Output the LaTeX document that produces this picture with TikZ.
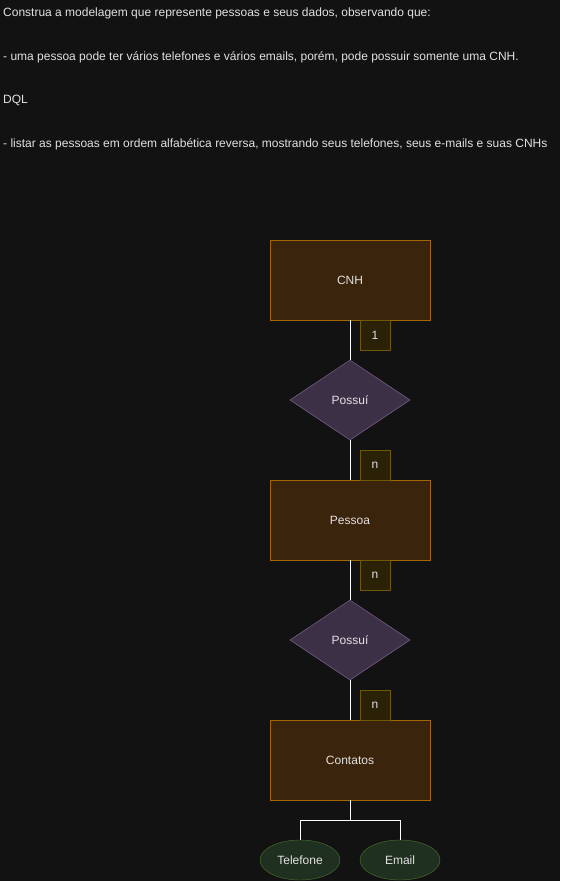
\documentclass[tikz,border=0pt]{standalone}
\usepackage{fontspec}
\setmainfont{Liberation Sans}
\usetikzlibrary{shapes.geometric}

\definecolor{bg}{RGB}{18,18,18}
\definecolor{txt}{RGB}{225,225,225}
\definecolor{entfill}{RGB}{59,36,12}
\definecolor{entline}{RGB}{165,102,0}
\definecolor{cardfill}{RGB}{43,33,6}
\definecolor{cardline}{RGB}{110,88,0}
\definecolor{relfill}{RGB}{60,48,70}
\definecolor{relline}{RGB}{140,110,165}
\definecolor{attfill}{RGB}{32,48,32}
\definecolor{attline}{RGB}{75,120,45}

\begin{document}
\begin{tikzpicture}[x=1pt,y=-1pt,
    font=\fontsize{12}{14}\selectfont, text=txt,
    entity/.style={draw=entline,fill=entfill,minimum width=160pt,minimum height=80pt,inner sep=0pt},
    card/.style={draw=cardline,fill=cardfill,minimum width=30pt,minimum height=30pt,inner sep=0pt},
    relation/.style={diamond,draw=relline,fill=relfill,minimum width=120pt,minimum height=80pt,inner sep=0pt},
    attribute/.style={ellipse,draw=attline,fill=attfill,minimum width=80pt,minimum height=40pt,inner sep=0pt},
    link/.style={draw=white,line width=0.8pt},
    prompt/.style={anchor=west,inner sep=0pt}]
    \fill[bg] (0,0) rectangle (560,881);
    \useasboundingbox (0,0) rectangle (560,881);
    % enunciado
    \node[prompt] (t1) at (3,13) {Construa a modelagem que represente pessoas e seus dados, observando que:};
    \node[prompt] (t2) at (3,57) {- uma pessoa pode ter vários telefones e vários emails, porém, pode possuir somente uma CNH.};
    \node[prompt] (t3) at (3,100) {DQL};
    \node[prompt] (t4) at (3,144) {- listar as pessoas em ordem alfabética reversa, mostrando seus telefones, seus e-mails e suas CNHs};
    % modelo
    \node[entity] (cnh) at (350,280) {CNH};
    \node[relation] (possui1) at (350,400) {Possuí};
    \node[entity] (pessoa) at (350,520) {Pessoa};
    \node[relation] (possui2) at (350,640) {Possuí};
    \node[entity] (contatos) at (350,760) {Contatos};
    \node[attribute] (telefone) at (300,860) {Telefone};
    \node[attribute] (email) at (400,860) {Email};
    \coordinate (split) at (350,820);
    \draw[link] (cnh) -- (possui1);
    \draw[link] (possui1) -- (pessoa);
    \draw[link] (pessoa) -- (possui2);
    \draw[link] (possui2) -- (contatos);
    \draw[link] (contatos) -- (split) -| (telefone);
    \draw[link] (split) -| (email);
    % cardinalidades
    \node[card] (c1) at (375,335) {1};
    \node[card] (c2) at (375,465) {n};
    \node[card] (c3) at (375,575) {n};
    \node[card] (c4) at (375,705) {n};
\end{tikzpicture}
\end{document}
